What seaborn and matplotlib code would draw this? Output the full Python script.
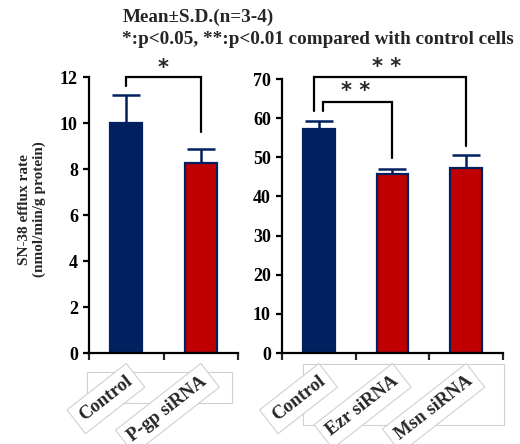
import numpy as np
import seaborn as sns
import matplotlib.pyplot as plt
from matplotlib.patches import Rectangle

# left panel: P-gp knockdown
left_groups = ["Control", "P-gp siRNA"]
left_means = [10.0, 8.25]
left_sd = [1.2, 0.6]

# right panel: ezrin / moesin knockdown
right_groups = ["Control", "Ezr siRNA", "Msn siRNA"]
right_means = [57.1, 45.7, 47.3]
right_sd = [2.1, 1.2, 3.3]

navy = "#002060"
red = "#C00000"

sns.set_style("ticks")
plt.rcParams["font.family"] = ["Liberation Serif", "DejaVu Serif"]
plt.rcParams["font.weight"] = "bold"

fig = plt.figure(figsize=(5.2, 4.44), dpi=100)
W, H = 520, 444
ax1 = fig.add_axes([89 / W, 1 - 353 / H, 149 / W, 276 / H])
ax2 = fig.add_axes([282 / W, 1 - 353 / H, 221 / W, 274 / H])


def draw_panel(ax, groups, means, sd, ymax, ystep):
    colors = [navy] + [red] * (len(groups) - 1)
    sns.barplot(x=groups, y=means, hue=groups, palette=colors, legend=False,
                saturation=1, width=0.43, edgecolor=navy, linewidth=1.6,
                ax=ax, zorder=2)
    x = np.arange(len(groups))
    ax.errorbar(x, means, yerr=[np.zeros(len(sd)), sd], fmt="none",
                ecolor=navy, elinewidth=1.8, capsize=10, capthick=1.8, zorder=1)
    ax.set_xlim(-0.5, len(groups) - 0.5)
    ax.set_ylim(0, ymax)
    ax.set_yticks(np.arange(0, ymax + 1, ystep))
    ax.set_xticks(np.arange(len(groups) + 1) - 0.5)
    ax.set_xticklabels([])
    for s in ["top", "right"]:
        ax.spines[s].set_visible(False)
    for s in ["left", "bottom"]:
        ax.spines[s].set_linewidth(1.6)
        ax.spines[s].set_color("black")
    ax.tick_params(axis="y", direction="out", length=4, width=1.6,
                   labelsize=13, pad=4, colors="black")
    ax.tick_params(axis="x", direction="out", length=5, width=1.6)
    for lab in ax.get_yticklabels():
        lab.set_fontweight("bold")
    for i, g in enumerate(groups):
        ax.annotate(g, xy=(i, 0), xycoords=("data", "axes fraction"),
                    xytext=(3, -19), textcoords="offset points",
                    rotation=38, rotation_mode="anchor", ha="right", va="center",
                    fontsize=13.5, fontweight="bold", annotation_clip=False,
                    bbox=dict(boxstyle="square,pad=0.35", fc="white",
                              ec="#d0d0d0", lw=0.8))


draw_panel(ax1, left_groups, left_means, left_sd, 12, 2)
draw_panel(ax2, right_groups, right_means, right_sd, 70, 10)


def bracket(ax, x0, x1, ytop, y0, y1, label, lx, ly):
    ax.plot([x0, x0, x1, x1], [y0, ytop, ytop, y1], color="black",
            lw=1.6, clip_on=False, solid_joinstyle="miter", zorder=3)
    ax.text(lx, ly, label, ha="center", va="center", fontsize=15,
            fontweight="bold", family="DejaVu Sans", clip_on=False)


bracket(ax1, 0.0, 1.0, 12.0, 11.6, 9.6, "*", 0.5, 12.4)
bracket(ax2, -0.07, 2.0, 70.5, 61.8, 52.8, "* *", 0.92, 73.0)
bracket(ax2, 0.05, 0.99, 64.1, 61.8, 49.7, "* *", 0.5, 66.9)

ax1.set_ylabel("SN-38 efflux rate\n(nmol/min/g protein)", fontsize=11,
               fontweight="bold", linespacing=1.1)
ax1.yaxis.set_label_coords(-0.29, 0.52)

# light outline boxes behind the category labels
for (x0, y0, x1, y1) in [(87, 372, 232, 403), (303, 364, 504, 425)]:
    fig.patches.append(Rectangle((x0 / W, 1 - y1 / H), (x1 - x0) / W,
                                 (y1 - y0) / H, transform=fig.transFigure,
                                 fc="white", ec="#d0d0d0", lw=0.8, zorder=-1))

fig.text(123 / W, 1 - 9 / H, "Mean\u00b1S.D.(n=3-4)", ha="left", va="top",
         fontsize=13.8, fontweight="bold")
fig.text(122 / W, 1 - 31 / H, "*:p<0.05, **:p<0.01 compared with control cells",
         ha="left", va="top", fontsize=13.8, fontweight="bold")

fig.savefig("out.png", dpi=100)
